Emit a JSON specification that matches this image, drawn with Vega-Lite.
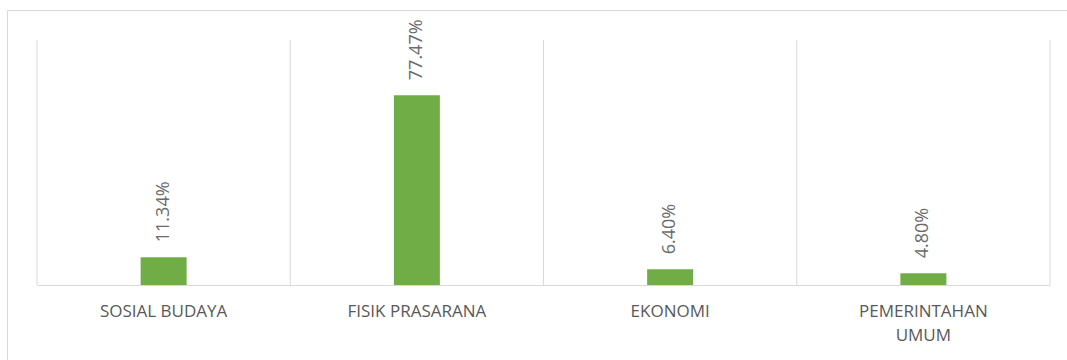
{
  "$schema": "https://vega.github.io/schema/vega-lite/v6.json",
  "width": 1080,
  "height": 370,
  "autosize": {"type": "none"},
  "padding": {"left": 7, "top": 10, "right": -20, "bottom": -20},
  "background": "white",
  "config": {"view": {"stroke": "#D9D9D9", "strokeWidth": 1}},
  "data": {
    "values": [
      {"kategori": "SOSIAL BUDAYA", "persen": 0.1134},
      {"kategori": "FISIK PRASARANA", "persen": 0.7747},
      {"kategori": "EKONOMI", "persen": 0.064},
      {"kategori": "PEMERINTAHAN UMUM", "persen": 0.048}
    ]
  },
  "encoding": {
    "x": {
      "field": "kategori",
      "type": "nominal",
      "sort": null,
      "scale": {"range": [30, 1043], "paddingInner": 0, "paddingOuter": 0},
      "axis": {
        "title": null,
        "labelAngle": 0,
        "offset": -95,
        "grid": false,
        "ticks": false,
        "domainColor": "#D9D9D9",
        "labelFont": "Open Sans",
        "labelFontSize": 17,
        "labelColor": "#595959",
        "labelPadding": 18,
        "labelBaseline": "top",
        "labelLineHeight": 24,
        "labelExpr": "datum.label == 'PEMERINTAHAN UMUM' ? ['PEMERINTAHAN', 'UMUM'] : datum.label"
      }
    },
    "y": {
      "field": "persen",
      "type": "quantitative",
      "scale": {"domain": [0, 1], "range": [275, 30]},
      "axis": null
    }
  },
  "layer": [
    {
      "mark": {"type": "rule", "color": "#D9D9D9", "strokeWidth": 1},
      "encoding": {
        "x": {"field": "kategori", "type": "nominal", "sort": null, "bandPosition": 0},
        "y": {"datum": 0},
        "y2": {"datum": 1}
      }
    },
    {
      "transform": [{"filter": "datum.kategori == 'PEMERINTAHAN UMUM'"}],
      "mark": {"type": "rule", "color": "#D9D9D9", "strokeWidth": 1},
      "encoding": {
        "x": {"field": "kategori", "type": "nominal", "sort": null, "bandPosition": 1},
        "y": {"datum": 0},
        "y2": {"datum": 1}
      }
    },
    {"mark": {"type": "bar", "color": "#70AD47", "width": 46}},
    {
      "mark": {"type": "text", "angle": -90, "align": "left", "baseline": "middle", "dx": 15, "font": "Open Sans", "fontSize": 18, "color": "#6b6b6b"},
      "encoding": {"text": {"field": "persen", "type": "quantitative", "format": ".2%"}}
    }
  ]
}
